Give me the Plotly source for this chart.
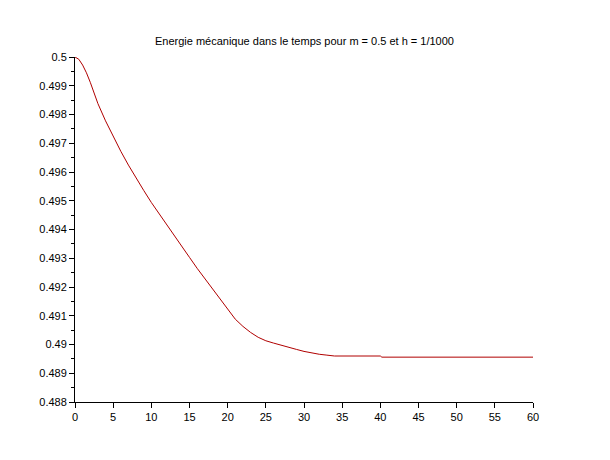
import plotly.graph_objects as go

# energie mecanique
temps = [0, 0.5, 1, 1.5, 2, 3, 4, 5, 6, 7, 8, 9, 10, 11, 12, 13, 14, 15, 16,
         17, 18, 19, 20, 21, 22, 23, 24, 25, 26, 27, 28, 29, 30, 31, 32, 33,
         34, 40, 40.2, 60]
energie = [0.5, 0.49992, 0.49972, 0.49945, 0.49912, 0.49838, 0.49778, 0.49724,
           0.49672, 0.49624, 0.49578, 0.49536, 0.49494, 0.49455, 0.49417,
           0.49379, 0.49341, 0.49303, 0.49265, 0.49229, 0.49193, 0.49157,
           0.49121, 0.49088, 0.49063, 0.49042, 0.49025, 0.49013, 0.49005,
           0.48997, 0.48990, 0.48983, 0.48976, 0.48970, 0.48966, 0.48963,
           0.48960, 0.48960, 0.48956, 0.48956]

x_ticks = list(range(0, 61, 5))
y_ticks = [0.488, 0.489, 0.49, 0.491, 0.492, 0.493, 0.494, 0.495, 0.496,
           0.497, 0.498, 0.499, 0.5]
y_labels = ["0.488", "0.489", "0.49", "0.491", "0.492", "0.493", "0.494",
            "0.495", "0.496", "0.497", "0.498", "0.499", "0.5"]

fig = go.Figure()
fig.add_trace(go.Scatter(x=temps, y=energie, mode="lines",
                         line=dict(color="#b00000", width=1)))

# la page html ajoute 8px de marge au body, on compense
fig.update_layout(
    width=610, height=460,
    margin=dict(l=67, r=85, t=49, b=66),
    paper_bgcolor="white", plot_bgcolor="white",
    showlegend=False,
    font=dict(family="Liberation Sans", size=11, color="black"),
    title=dict(text="Energie mécanique dans le temps pour m = 0.5 et h = 1/1000",
               x=0.486, xanchor="center", y=1 - 33 / 460, yanchor="middle",
               font=dict(size=11)),
)
fig.update_xaxes(range=[0, 60], tickvals=x_ticks, showgrid=False, zeroline=False,
                 showline=True, linecolor="black", linewidth=1,
                 ticks="outside", ticklen=5, tickcolor="black")
fig.update_yaxes(range=[0.488, 0.5], tickvals=y_ticks, ticktext=y_labels,
                 showgrid=False, zeroline=False,
                 showline=True, linecolor="black", linewidth=1,
                 ticks="outside", ticklen=5, tickcolor="black",
                 minor=dict(dtick=0.0005, ticks="outside", ticklen=3,
                            tickcolor="black"))

fig.write_html("out.html")
